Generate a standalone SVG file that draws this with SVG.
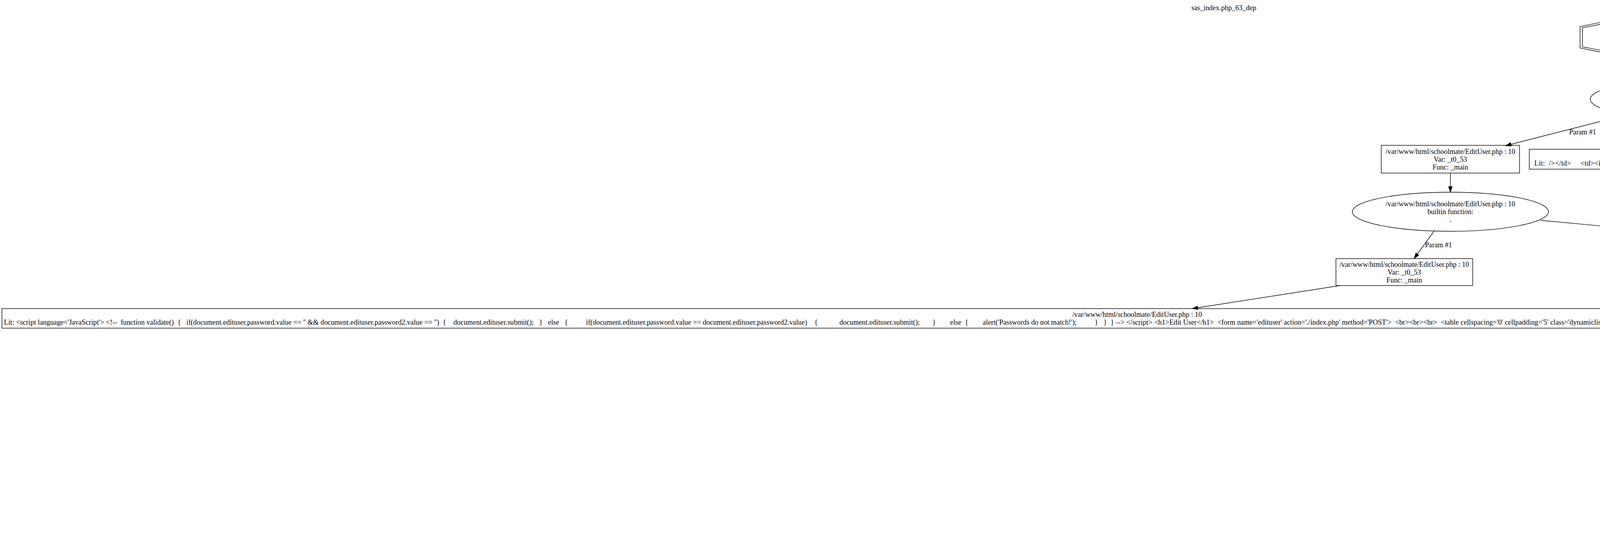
<svg xmlns="http://www.w3.org/2000/svg" width="6266" height="1413" viewBox="0 0 6266 1413">
<style>
  text { font-family: "Liberation Serif", "Times New Roman", serif; font-size: 18.2px; fill: #000; }
  .c { text-anchor: middle; }
  .pre { white-space: pre; }
  .shape { fill: none; stroke: #000; stroke-width: 1.4; }
  .edge { fill: none; stroke: #000; stroke-width: 1.4; }
</style>
<defs>
  <marker id="arr" markerUnits="userSpaceOnUse" markerWidth="16" markerHeight="12" refX="15" refY="5" orient="auto">
    <path d="M0,0 L15,5 L0,10 Z" fill="#000" stroke="#000" stroke-width="1"/>
  </marker>
</defs>
<rect x="0" y="0" width="6266" height="1413" fill="#fff"/>
<text class="c" x="3133" y="26">sas_index.php_63_dep</text>

<g id="edges">
  <path class="edge" marker-end="url(#arr)" d="M4322,155 L4322,204"/>
  <path class="edge" marker-end="url(#arr)" d="M4167,293 L3854,373"/>
  <text x="4017" y="344">Param #1</text>
  <path class="edge" marker-end="url(#arr)" d="M4388,303 L4494,382"/>
  <text x="4448" y="344">Param #2</text>
  <path class="edge" marker-end="url(#arr)" d="M3713,443 L3713,492"/>
  <path class="edge" marker-end="url(#arr)" d="M3671,592 L3620,662"/>
  <text x="3648" y="633">Param #1</text>
  <path class="edge" marker-end="url(#arr)" d="M3944,564 L5160,677"/>
  <text x="4715" y="633">Param #2</text>
  <path class="edge" marker-end="url(#arr)" d="M3430,731 L3052,790"/>
  <path class="edge" marker-end="url(#arr)" d="M5510,725 L5842,781"/>
  <path class="edge" marker-end="url(#arr)" d="M6016,851 L6016,902"/>
  <path class="edge" marker-end="url(#arr)" d="M6016,1000 L6016,1069"/>
  <text x="6018" y="1041">Param #1</text>
  <path class="edge" marker-end="url(#arr)" d="M6016,1140 L6016,1190"/>
  <path class="edge" marker-end="url(#arr)" d="M6016,1261 L6016,1311"/>
</g>

<g id="n1">
  <polygon class="shape" points="4208,35 4436,35 4599,68 4599,123 4436,155 4208,155 4045,123 4045,68"/>
  <polygon class="shape" points="4210,41 4434,41 4593,71 4593,120 4434,149 4210,149 4051,120 4051,71"/>
  <text class="c" x="4322" y="81">/var/www/html/schoolmate/EditUser.php : 10</text>
  <text class="c" x="4322" y="101">Var: _t0_53</text>
  <text class="c" x="4322" y="121">Func: _main</text>
</g>

<g id="n2">
  <ellipse class="shape" cx="4322" cy="254" rx="251" ry="50"/>
  <text class="c" x="4322" y="240">/var/www/html/schoolmate/EditUser.php : 10</text>
  <text class="c" x="4322" y="260">builtin function:</text>
  <text class="c" x="4322" y="280">.</text>
</g>

<g id="n3">
  <rect class="shape" x="3536" y="372" width="354" height="71"/>
  <text class="c" x="3713" y="394">/var/www/html/schoolmate/EditUser.php : 10</text>
  <text class="c" x="3713" y="414">Var: _t0_53</text>
  <text class="c" x="3713" y="434">Func: _main</text>
</g>

<g id="n4">
  <rect class="shape" x="3915" y="382" width="1222" height="51"/>
  <text class="c" x="4526" y="403.5">/var/www/html/schoolmate/EditUser.php : 10</text>
  <text class="pre" xml:space="preserve" x="3928" y="423.5" textLength="1199" lengthAdjust="spacing">Lit:  /&gt;&lt;/td&gt;     &lt;td&gt;&lt;input type=password' name='password' /&gt;&lt;/td&gt; &lt;td&gt;&lt;input type='password' name='password2' /&gt;&lt;/td&gt;     &lt;td&gt;        &lt;select name='type'&gt;</text>
</g>

<g id="n5">
  <ellipse class="shape" cx="3713" cy="542" rx="251" ry="50"/>
  <text class="c" x="3713" y="528">/var/www/html/schoolmate/EditUser.php : 10</text>
  <text class="c" x="3713" y="548">builtin function:</text>
  <text class="c" x="3713" y="568">.</text>
</g>

<g id="n6">
  <rect class="shape" x="3420" y="662" width="350" height="69"/>
  <text class="c" x="3595" y="682.5">/var/www/html/schoolmate/EditUser.php : 10</text>
  <text class="c" x="3595" y="702.5">Var: _t0_53</text>
  <text class="c" x="3595" y="722.5">Func: _main</text>
</g>

<g id="n7">
  <rect class="shape" x="5160" y="662" width="350" height="69"/>
  <text class="c" x="5335" y="682.5">/var/www/html/schoolmate/EditUser.php : 10</text>
  <text class="c" x="5335" y="702.5">Var: $user[0]</text>
  <text class="c" x="5335" y="722.5">Func: _main</text>
</g>

<g id="n13">
  <rect class="shape" x="5" y="790" width="5813" height="50"/>
  <text class="c" x="2911" y="811">/var/www/html/schoolmate/EditUser.php : 10</text>
  <text class="pre" xml:space="preserve" x="10" y="831" textLength="5798" lengthAdjust="spacing">Lit: &lt;script language='JavaScript'&gt; &lt;!--  function validate()  {   if(document.edituser.password.value == '' &amp;&amp; document.edituser.password2.value == '')  {    document.edituser.submit();   }   else   {          if(document.edituser.password.value == document.edituser.password2.value)    {            document.edituser.submit();       }        else  {        alert('Passwords do not match!');          }   }  } --&gt; &lt;/script&gt; &lt;h1&gt;Edit User&lt;/h1&gt;  &lt;form name='edituser' action='./index.php' method='POST'&gt;  &lt;br&gt;&lt;br&gt;&lt;br&gt;  &lt;table cellspacing='0' cellpadding='5' class='dynamiclist' align='center' width='550'&gt;   &lt;tr class='header'&gt;   &lt;th&gt;Username&lt;/th&gt;  &lt;th&gt;Password&lt;/th&gt;  &lt;th&gt;Confirm Password&lt;/th&gt;     &lt;th&gt;Type&lt;/th&gt;   &lt;/tr&gt;   &lt;tr class='even'&gt;   &lt;td&gt;&lt;input type='text' name='username' maxlength='15' value='</text>
</g>

<g id="n8">
  <rect class="shape" x="5842" y="780" width="347" height="71"/>
  <text class="c" x="6015.5" y="801.5">/var/www/html/schoolmate/EditUser.php : 8</text>
  <text class="c" x="6015.5" y="821.5">Var: _t0_53[0]</text>
  <text class="c" x="6015.5" y="841.5">Func: _main</text>
</g>

<g id="n9">
  <ellipse class="shape" cx="6016" cy="951" rx="245" ry="49"/>
  <text class="c" x="6016" y="937">/var/www/html/schoolmate/EditUser.php : 8</text>
  <text class="c" x="6016" y="957">builtin function:</text>
  <text class="c" x="6016" y="977">mysql_fetch_row</text>
</g>

<g id="n10">
  <rect class="shape" x="5842" y="1069" width="347" height="71"/>
  <text class="c" x="6015.5" y="1090.5">/var/www/html/schoolmate/EditUser.php : 8</text>
  <text class="c" x="6015.5" y="1110.5">Var: $query</text>
  <text class="c" x="6015.5" y="1130.5">Func: _main</text>
</g>

<g id="n11">
  <rect class="shape" x="5842" y="1190" width="347" height="71"/>
  <text class="c" x="6015.5" y="1211.5">/var/www/html/schoolmate/EditUser.php : 5</text>
  <text class="c" x="6015.5" y="1231.5">Var: _t1_53</text>
  <text class="c" x="6015.5" y="1251.5">Func: _main</text>
</g>

<g id="n12">
  <ellipse class="shape" cx="6016" cy="1361" rx="245" ry="50"/>
  <text class="c" x="6016" y="1347">/var/www/html/schoolmate/EditUser.php : 5</text>
  <text class="c" x="6016" y="1367">builtin function:</text>
  <text class="c" x="6016" y="1387">mysql_query</text>
</g>
</svg>
